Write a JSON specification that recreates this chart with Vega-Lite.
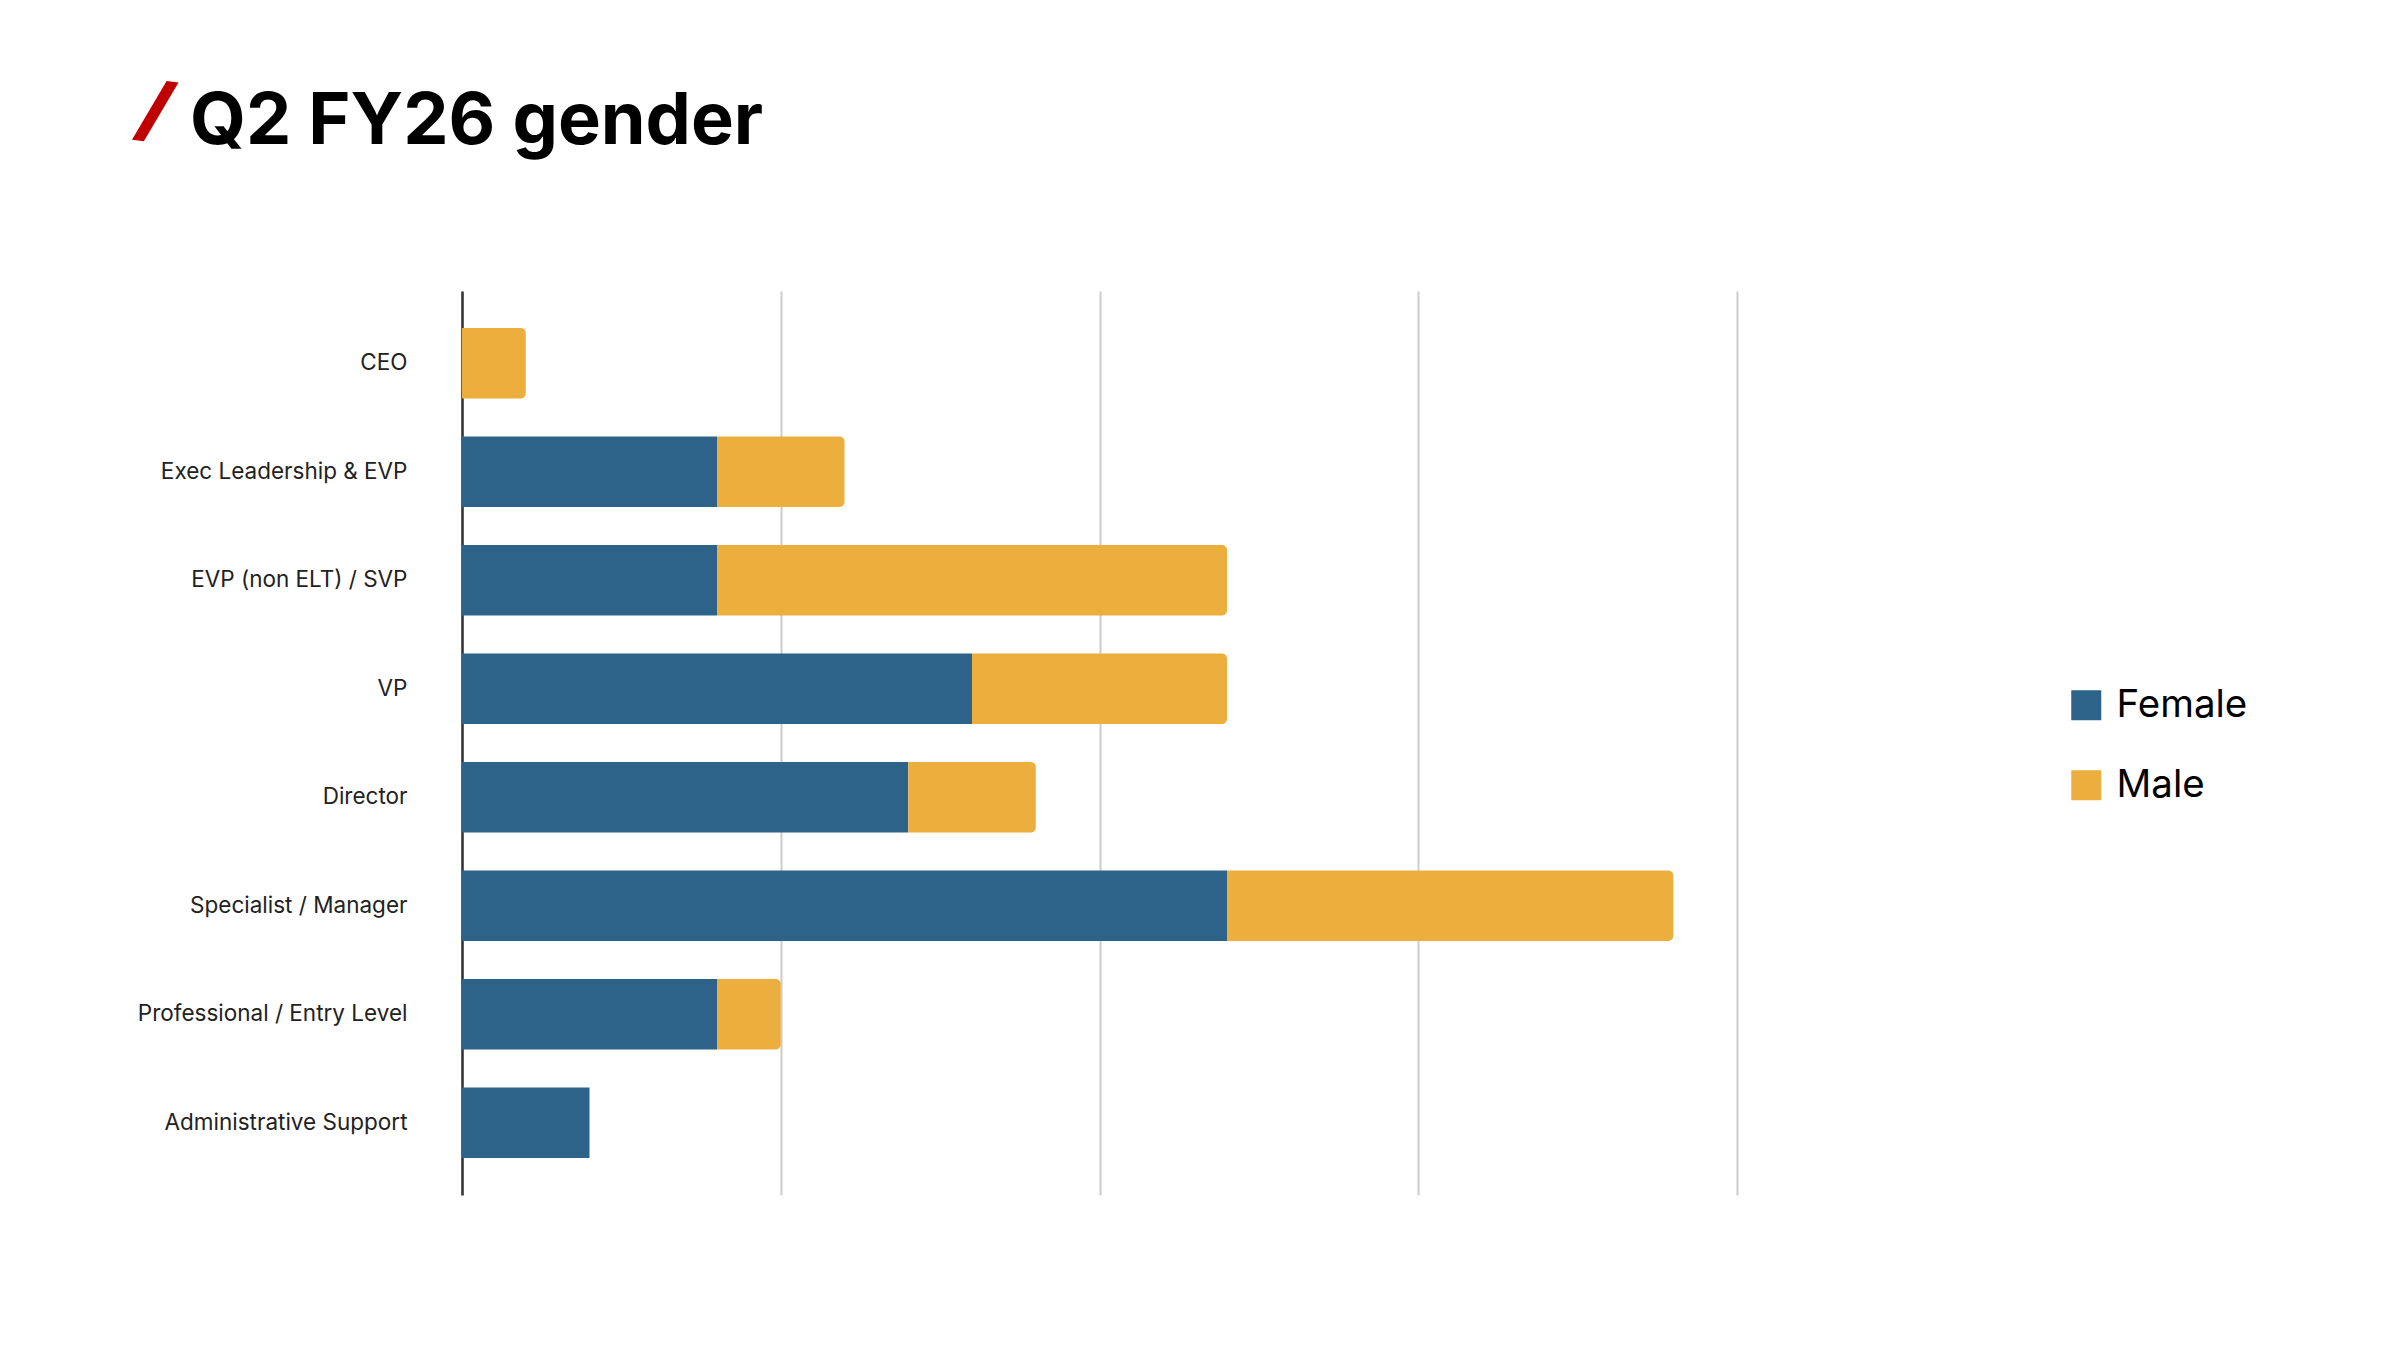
{
  "$schema": "https://vega.github.io/schema/vega-lite/v6.json",
  "autosize": {"type": "none"},
  "width": 1275,
  "height": 904,
  "padding": {"left": 462, "top": 291, "right": 663, "bottom": 155},
  "background": "#ffffff",
  "title": {
    "text": "Q2 FY26 gender",
    "anchor": "start",
    "frame": "group",
    "font": "Inter",
    "fontSize": 72,
    "fontWeight": 700,
    "color": "#000000",
    "baseline": "alphabetic",
    "offset": 0,
    "dx": -272,
    "dy": 142
  },
  "data": {
    "values": [
      {"level": "CEO", "gender": "Female", "count": 0},
      {"level": "CEO", "gender": "Male", "count": 1},
      {"level": "Exec Leadership & EVP", "gender": "Female", "count": 4},
      {"level": "Exec Leadership & EVP", "gender": "Male", "count": 2},
      {"level": "EVP (non ELT) / SVP", "gender": "Female", "count": 4},
      {"level": "EVP (non ELT) / SVP", "gender": "Male", "count": 8},
      {"level": "VP", "gender": "Female", "count": 8},
      {"level": "VP", "gender": "Male", "count": 4},
      {"level": "Director", "gender": "Female", "count": 7},
      {"level": "Director", "gender": "Male", "count": 2},
      {"level": "Specialist / Manager", "gender": "Female", "count": 12},
      {"level": "Specialist / Manager", "gender": "Male", "count": 7},
      {"level": "Professional / Entry Level", "gender": "Female", "count": 4},
      {"level": "Professional / Entry Level", "gender": "Male", "count": 1},
      {"level": "Administrative Support", "gender": "Female", "count": 2},
      {"level": "Administrative Support", "gender": "Male", "count": 0}
    ]
  },
  "transform": [
    {"stack": "count", "groupby": ["level"], "sort": [{"field": "gender", "order": "ascending"}], "as": ["x0", "x1"]}
  ],
  "encoding": {
    "y": {
      "field": "level",
      "type": "nominal",
      "sort": ["CEO", "Exec Leadership & EVP", "EVP (non ELT) / SVP", "VP", "Director", "Specialist / Manager", "Professional / Entry Level", "Administrative Support"],
      "scale": {"paddingInner": 0.35, "paddingOuter": 0.34},
      "axis": {
        "title": "/",
        "titleColor": "#C00000",
        "titleFont": "Inter",
        "titleFontSize": 72,
        "titleFontWeight": 900,
        "titleFontStyle": "italic",
        "titleAngle": 7,
        "titleAlign": "center",
        "titleBaseline": "middle",
        "titleX": -308,
        "titleY": -179,
        "domain": true,
        "domainColor": "#333333",
        "domainWidth": 2.5,
        "ticks": false,
        "tickSize": 0,
        "labelPadding": 55,
        "labelFont": "Inter",
        "labelFontSize": 22.5,
        "labelColor": "#222222",
        "labelLimit": 500,
        "labelDy": 5,
        "grid": false
      }
    },
    "x": {
      "field": "x0",
      "type": "quantitative",
      "scale": {"domain": [0, 20], "nice": false, "zero": true},
      "axis": {
        "title": null,
        "labels": false,
        "ticks": false,
        "domain": false,
        "grid": true,
        "gridColor": "#cccccc",
        "gridWidth": 2,
        "values": [0, 5, 10, 15, 20]
      }
    },
    "x2": {"field": "x1"},
    "color": {
      "field": "gender",
      "type": "nominal",
      "scale": {"domain": ["Female", "Male"], "range": ["#2E6389", "#ECAE3D"]},
      "legend": {
        "title": null,
        "orient": "none",
        "legendX": 1605,
        "legendY": 395,
        "symbolType": "square",
        "symbolSize": 900,
        "symbolStrokeWidth": 0,
        "labelFont": "Inter",
        "labelFontSize": 38.5,
        "labelColor": "#000000",
        "labelOffset": 11,
        "rowPadding": 41,
        "padding": 0
      }
    }
  },
  "layer": [
    {
      "transform": [{"filter": "datum.gender === 'Female'"}],
      "mark": {"type": "bar"}
    },
    {
      "transform": [{"filter": "datum.gender === 'Male'"}],
      "mark": {"type": "bar", "cornerRadiusTopRight": 5, "cornerRadiusBottomRight": 5}
    }
  ],
  "config": {
    "view": {"stroke": null},
    "font": "Inter"
  }
}
